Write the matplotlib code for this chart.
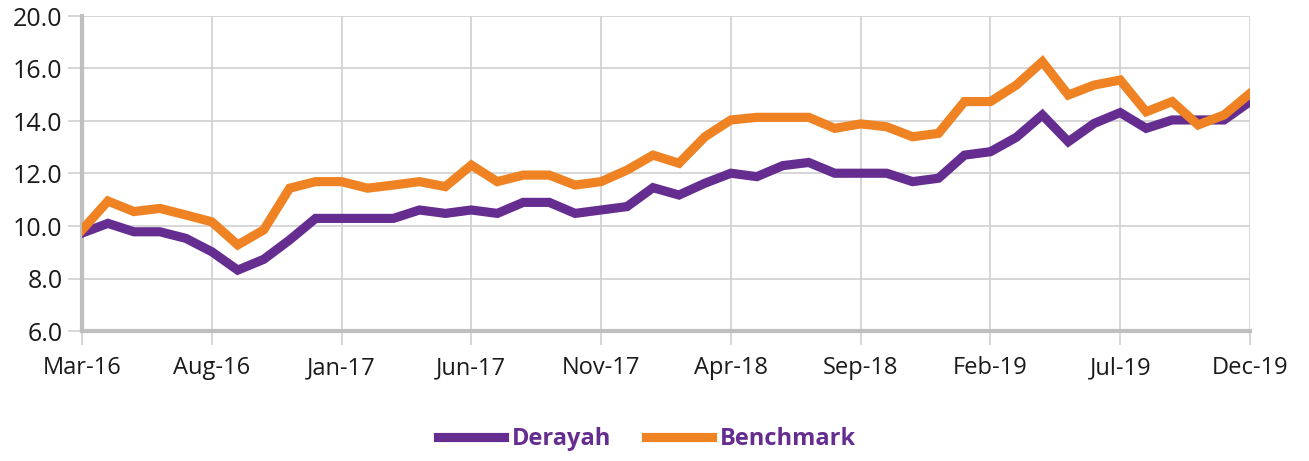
import matplotlib
matplotlib.use("Agg")
import matplotlib.pyplot as plt
from matplotlib.lines import Line2D

months = ["Mar-16","Apr-16","May-16","Jun-16","Jul-16","Aug-16","Sep-16","Oct-16","Nov-16","Dec-16",
          "Jan-17","Feb-17","Mar-17","Apr-17","May-17","Jun-17","Jul-17","Aug-17","Sep-17","Oct-17",
          "Nov-17","Dec-17","Jan-18","Feb-18","Mar-18","Apr-18","May-18","Jun-18","Jul-18","Aug-18",
          "Sep-18","Oct-18","Nov-18","Dec-18","Jan-19","Feb-19","Mar-19","Apr-19","May-19","Jun-19",
          "Jul-19","Aug-19","Sep-19","Oct-19","Nov-19","Dec-19"]

derayah = [9.73,10.10,9.78,9.78,9.53,9.02,8.32,8.73,9.47,10.29,
           10.29,10.29,10.29,10.61,10.48,10.61,10.48,10.90,10.90,10.48,
           10.61,10.74,11.46,11.18,11.63,12.01,11.88,12.30,12.42,12.01,
           12.01,12.01,11.69,11.82,12.70,12.83,13.38,14.23,13.21,13.91,
           14.32,13.72,14.04,14.04,14.04,14.74]

benchmark = [9.85,10.95,10.55,10.67,10.42,10.16,9.28,9.85,11.44,11.69,
             11.69,11.44,11.56,11.69,11.50,12.32,11.69,11.94,11.94,11.56,
             11.69,12.13,12.70,12.39,13.40,14.04,14.14,14.14,14.14,13.72,
             13.89,13.78,13.40,13.53,14.74,14.74,15.37,16.26,14.99,15.37,
             15.56,14.35,14.74,13.85,14.23,15.05]

y_ticks = [6, 8, 10, 12, 14, 16, 18]
y_tick_labels = ["6.0", "8.0", "10.0", "12.0", "14.0", "16.0", "20.0"]

purple = "#662D91"
orange = "#EF8323"
grid_c = "#D0D0D0"
spine_c = "#BFBFBF"

plt.rcParams['font.family'] = ['Open Sans', 'DejaVu Sans']

fig = plt.figure(figsize=(13.09, 4.61), dpi=100)
ax = fig.add_axes([82/1309, 1-331/461, (1250-82)/1309, (331-16)/461])

x = list(range(len(months)))
ax.plot(x, derayah, color=purple, lw=6.6, solid_joinstyle='miter', label="Derayah", zorder=3)
ax.plot(x, benchmark, color=orange, lw=6.6, solid_joinstyle='miter', label="Benchmark", zorder=4)

ax.set_xlim(0, len(months)-1)
ax.set_ylim(6, 18)
xt = list(range(0, len(months), 5))
ax.set_xticks(xt)
ax.set_xticklabels([months[i] for i in xt])
ax.set_yticks(y_ticks)
ax.set_yticklabels(y_tick_labels)

ax.grid(True, color=grid_c, lw=1.2, zorder=0)
for s in ["top", "right"]:
    ax.spines[s].set_visible(False)
ax.spines["left"].set_color(spine_c)
ax.spines["left"].set_linewidth(3)
ax.spines["bottom"].set_color(spine_c)
ax.spines["bottom"].set_linewidth(3)
ax.tick_params(axis='x', length=10, width=1.2, color=grid_c, labelsize=17, labelcolor="#1a1a1a", pad=8)
ax.tick_params(axis='y', length=10, width=1.2, color=grid_c, labelsize=18, labelcolor="#1a1a1a", pad=4)

handles = [Line2D([], [], color=purple, lw=6.6), Line2D([], [], color=orange, lw=6.6)]
leg = fig.legend(handles, ["Derayah", "Benchmark"], loc='center', bbox_to_anchor=(647/1309, 1-439/461),
                 ncol=2, frameon=False, prop={'size': 17, 'weight': 'bold'},
                 handlelength=2.8, columnspacing=1.5, handletextpad=0.3)
for t in leg.get_texts():
    t.set_color(purple)

fig.savefig("out.png", dpi=100)
